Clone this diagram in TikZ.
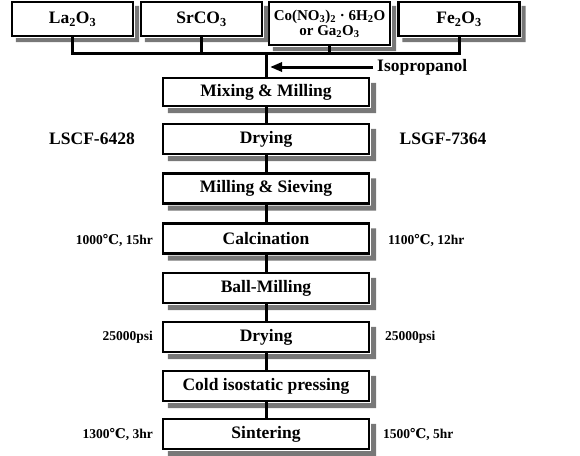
\documentclass[tikz,border=0pt]{standalone}
\usepackage{fontspec}
\setmainfont{Liberation Serif}
\newfontfamily\degfont{DejaVu Serif}
\usetikzlibrary{arrows.meta,positioning}
\definecolor{shadowgray}{RGB}{120,120,120}
\newcommand{\degC}{{\degfont ℃}}
% gray L-shaped shadow at the right and bottom of a box
\newcommand{\boxshadow}[2]{%
  \fill[shadowgray] ([xshift=1.1pt,yshift=-#2]#1.north east) -- ([xshift=#2,yshift=-#2]#1.north east)
    -- ([xshift=#2,yshift=-#2]#1.south east) -- ([xshift=#2,yshift=-#2]#1.south west)
    -- ([xshift=#2,yshift=-1.1pt]#1.south west) -- ([xshift=1.1pt,yshift=-1.1pt]#1.south east) -- cycle;}

\begin{document}
\begin{tikzpicture}[x=1pt, y=-1pt,
    stage/.style={rectangle, draw, line width=2.2pt, fill=white, minimum width=206pt, minimum height=30pt, inner sep=0pt, font=\fontsize{17.5}{18}\selectfont\bfseries},
    raw/.style={stage, minimum width=121pt, minimum height=34pt},
    conn/.style={line width=3pt},
    arr/.style={-{Triangle[length=12pt, width=9pt]}, line width=3pt},
    lbl/.style={font=\fontsize{17.5}{18}\selectfont\bfseries, inner sep=0pt},
    cond/.style={font=\fontsize{13.5}{14}\selectfont\bfseries, inner sep=0pt}
]
\useasboundingbox (0,0) rectangle (580,455);

% Raw materials
\node[raw] (la) at (72.5,19) {La\textsubscript{2}O\textsubscript{3}};
\node[raw] (sr) at (201.5,19) {SrCO\textsubscript{3}};
\node[raw, minimum height=43pt, align=center, font=\fontsize{15}{15}\selectfont\bfseries] (co) at (329.5,23.5) {Co(NO\textsubscript{3})\textsubscript{2} · 6H\textsubscript{2}O\\or Ga\textsubscript{2}O\textsubscript{3}};
\node[raw] (fe) at (459,19) {Fe\textsubscript{2}O\textsubscript{3}};
\coordinate (bus) at (266,53);

% Process steps
\node[stage, minimum height=28pt] (mix) at (266,92) {Mixing \& Milling};
\node[stage] (dry1) at (266,139) {Drying};
\node[stage] (sieve) at (266,188.5) {Milling \& Sieving};
\node[stage] (calc) at (266,238.5) {Calcination};
\node[stage] (ball) at (266,288) {Ball-Milling};
\node[stage] (dry2) at (266,337) {Drying};
\node[stage] (cip) at (266,386) {Cold isostatic pressing};
\node[stage] (sint) at (266,434) {Sintering};

% Shadows
\boxshadow{la}{5pt}
\boxshadow{sr}{5pt}
\boxshadow{co}{5pt}
\boxshadow{fe}{5pt}
\boxshadow{mix}{6pt}
\boxshadow{dry1}{6pt}
\boxshadow{sieve}{6pt}
\boxshadow{calc}{6pt}
\boxshadow{ball}{6pt}
\boxshadow{dry2}{6pt}
\boxshadow{cip}{6pt}
\boxshadow{sint}{6pt}

% Solvent
\node[lbl, anchor=west] (iso) at (377,67) {Isopropanol};

% Compositions
\node[lbl] (lscf) at (92,139) {LSCF-6428};
\node[lbl] (lsgf) at (443,139) {LSGF-7364};

% Conditions
\node[cond, anchor=east] (calcl) at (153,240) {1000\degC, 15hr};
\node[cond, anchor=west] (calcr) at (388,240) {1100\degC, 12hr};
\node[cond, anchor=east] (dryl) at (153,337) {25000psi};
\node[cond, anchor=west] (dryr) at (385,337) {25000psi};
\node[cond, anchor=east] (sintl) at (153,434) {1300\degC, 3hr};
\node[cond, anchor=west] (sintr) at (383,434) {1500\degC, 5hr};

% Connectors
\draw[conn] (la.south) -- (la.south |- bus) -- (fe.south |- bus) -- (fe.south);
\draw[conn] (sr.south) -- (sr.south |- bus);
\draw[conn] (co.south) -- (co.south |- bus);
\draw[conn] (bus) -- (mix.north);
\draw[arr] ([xshift=-4pt]iso.west) -- ([xshift=4pt]bus |- iso.west);
\draw[conn] (mix) -- (dry1);
\draw[conn] (dry1) -- (sieve);
\draw[conn] (sieve) -- (calc);
\draw[conn] (calc) -- (ball);
\draw[conn] (ball) -- (dry2);
\draw[conn] (dry2) -- (cip);
\draw[conn] (cip) -- (sint);

\end{tikzpicture}
\end{document}
